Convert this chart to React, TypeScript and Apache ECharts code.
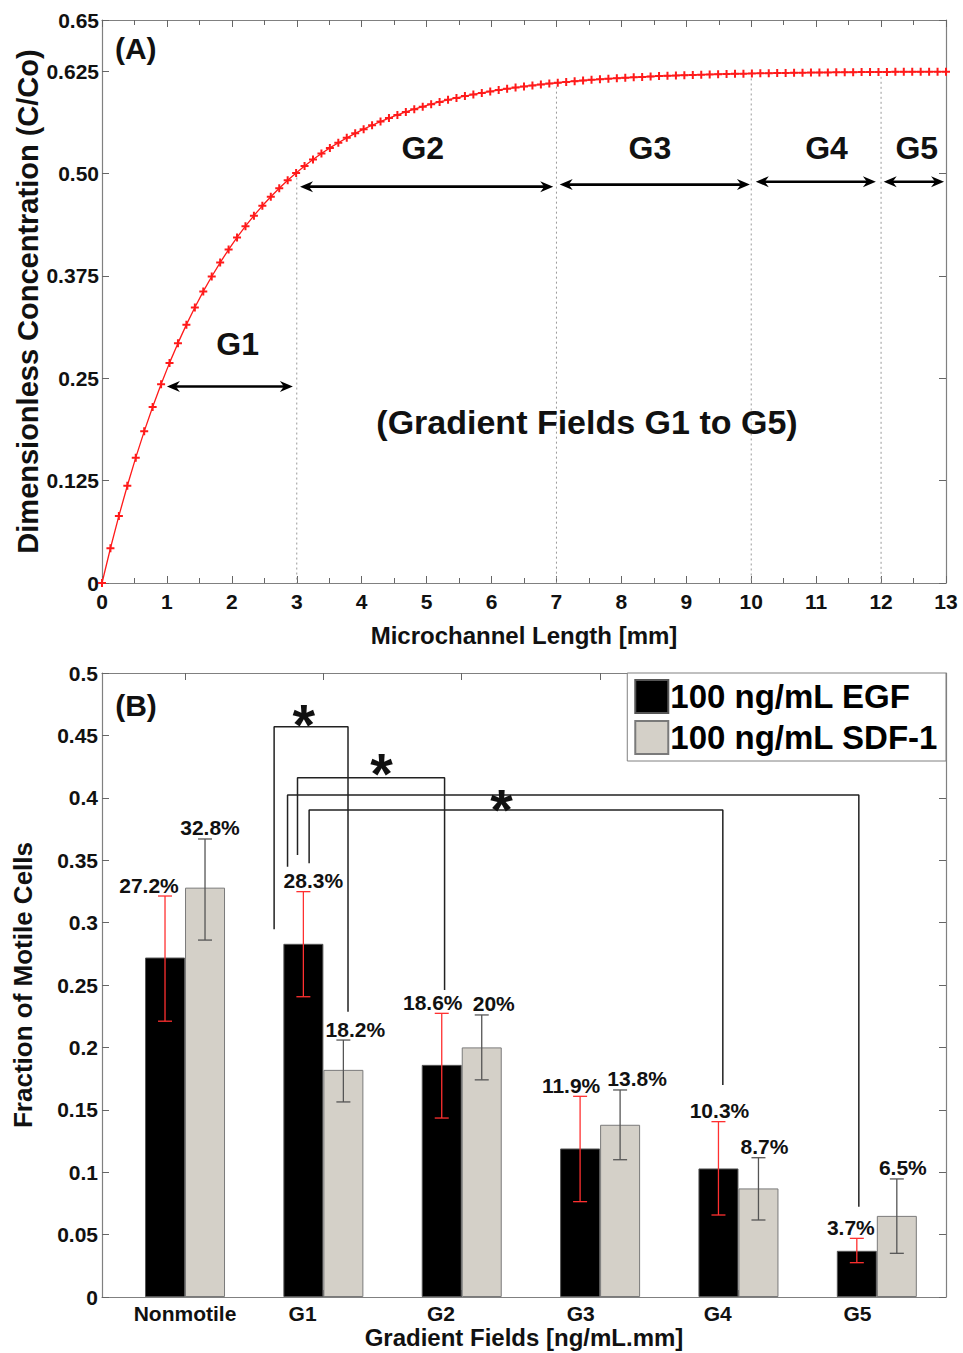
import React, { useEffect, useRef } from 'react';
import * as echarts from 'echarts';

const FONT = '"Liberation Sans", Arial, Helvetica, sans-serif';

// ---------- Panel A data ----------
const lengthMm = [
  0, 0.13, 0.26, 0.39, 0.52, 0.65, 0.78, 0.91, 1.04, 1.17,
  1.3, 1.43, 1.56, 1.69, 1.82, 1.95, 2.08, 2.21, 2.34, 2.47,
  2.6, 2.73, 2.86, 2.99, 3.12, 3.25, 3.38, 3.51, 3.64, 3.77,
  3.9, 4.03, 4.16, 4.29, 4.42, 4.55, 4.68, 4.81, 4.94, 5.07,
  5.2, 5.33, 5.46, 5.59, 5.72, 5.85, 5.98, 6.11, 6.24, 6.37,
  6.5, 6.63, 6.76, 6.89, 7.02, 7.15, 7.28, 7.41, 7.54, 7.67,
  7.8, 7.93, 8.06, 8.19, 8.32, 8.45, 8.58, 8.71, 8.84, 8.97,
  9.1, 9.23, 9.36, 9.49, 9.62, 9.75, 9.88, 10.01, 10.14, 10.27,
  10.4, 10.53, 10.66, 10.79, 10.92, 11.05, 11.18, 11.31, 11.44, 11.57,
  11.7, 11.83, 11.96, 12.09, 12.22, 12.35, 12.48, 12.61, 12.74, 12.87,
  13,
];
const concentration = [
  0, 0.0424, 0.0819, 0.1188, 0.1531, 0.1852, 0.2150, 0.2428, 0.2688, 0.2929,
  0.3155, 0.3365, 0.3561, 0.3743, 0.3913, 0.4072, 0.4220, 0.4357, 0.4486, 0.4606,
  0.4717, 0.4821, 0.4918, 0.5008, 0.5093, 0.5171, 0.5244, 0.5313, 0.5376, 0.5436,
  0.5491, 0.5542, 0.5590, 0.5635, 0.5677, 0.5716, 0.5752, 0.5786, 0.5817, 0.5847,
  0.5874, 0.5900, 0.5923, 0.5946, 0.5966, 0.5985, 0.6003, 0.6020, 0.6036, 0.6050,
  0.6064, 0.6076, 0.6088, 0.6099, 0.6109, 0.6119, 0.6128, 0.6136, 0.6144, 0.6151,
  0.6158, 0.6164, 0.6170, 0.6175, 0.6180, 0.6185, 0.6190, 0.6194, 0.6197, 0.6201,
  0.6204, 0.6207, 0.6210, 0.6213, 0.6216, 0.6218, 0.6220, 0.6222, 0.6224, 0.6226,
  0.6227, 0.6229, 0.6230, 0.6232, 0.6233, 0.6234, 0.6235, 0.6236, 0.6237, 0.6238,
  0.6239, 0.6240, 0.6240, 0.6241, 0.6242, 0.6242, 0.6243, 0.6243, 0.6244, 0.6244,
  0.6244,
];
const yTickLabelsA = ['0', '0.125', '0.25', '0.375', '0.50', '0.625', '0.65'];
const boundaryX = [3, 7, 10, 12];
const boundaryTop = [0.5, 0.611, 0.621, 0.623];
const fieldStart = [1.0, 3.05, 7.05, 10.07, 12.04];
const fieldEnd = [2.94, 6.95, 9.98, 11.92, 12.97];
const arrowLevel = [0.24, 0.484, 0.4865, 0.49, 0.49];
const annotationTextA = ['(A)', 'G1', 'G2', 'G3', 'G4', 'G5', '(Gradient Fields G1 to G5)'];
const annotationPosA = [[0.52, 0.653], [2.09, 0.292], [4.94, 0.531], [8.44, 0.531], [11.16, 0.531], [12.55, 0.531], [7.47, 0.197]];
const annotationSizeA = [30, 32, 32, 32, 32, 32, 34];

// ---------- Panel B data ----------
const categories = ['Nonmotile', 'G1', 'G2', 'G3', 'G4', 'G5'];
const categoryX = [1, 2, 3, 4, 5, 6];
const categoryLabelX = [1, 1.85, 2.85, 3.86, 4.85, 5.86];
const seriesNames = ['100 ng/mL EGF', '100 ng/mL SDF-1'];
const egfPct = [27.2, 28.3, 18.6, 11.9, 10.3, 3.7];
const sdfPct = [32.8, 18.2, 20, 13.8, 8.7, 6.5];
const egfLow = [0.221, 0.2406, 0.1434, 0.0764, 0.0657, 0.0275];
const egfHigh = [0.3213, 0.3248, 0.2273, 0.1608, 0.1405, 0.047];
const sdfLow = [0.286, 0.1563, 0.174, 0.11, 0.0617, 0.035];
const sdfHigh = [0.367, 0.2059, 0.226, 0.1659, 0.1116, 0.0946];
const egfLabelDx = [-16, 10, -9, -9, 1, -6];
const sdfLabelDx = [5, 12, 12, 17, 6, 6];
// significance brackets: [xLeft, yLeftBottom, xRight, yRightBottom, yTop]
const brackets = [
  [1.644, 0.2946, 2.178, 0.2286, 0.457],
  [1.813, 0.3542, 2.876, 0.246, 0.4161],
  [1.741, 0.3448, 5.87, 0.0724, 0.4022],
  [1.897, 0.3475, 4.887, 0.1699, 0.3902],
];
const starPos = [[1.859, 0.469], [2.421, 0.43], [3.287, 0.4006]];
const panelBLabelPos = [0.646, 0.4736];

const AXIS_COLOR = '#808080';
const TICK_COLOR = '#666';
const TEXT_COLOR = '#111';

const tickLabel = (size: number, margin: number) => ({
  color: TEXT_COLOR,
  fontWeight: 'bold' as const,
  fontSize: size,
  fontFamily: FONT,
  margin,
});
const nameStyle = (size: number) => ({
  color: TEXT_COLOR,
  fontWeight: 'bold' as const,
  fontSize: size,
  fontFamily: FONT,
});
const axisLine = { show: true, onZero: false, lineStyle: { color: AXIS_COLOR, width: 1.2 } };

function textEl(x: number, y: number, text: string, size: number) {
  return {
    type: 'text',
    x,
    y,
    style: {
      text,
      fontSize: size,
      fontWeight: 'bold',
      fontFamily: FONT,
      fill: TEXT_COLOR,
      align: 'center',
      verticalAlign: 'middle',
    },
  };
}

function errorSeries(low: number[], high: number[], pct: number[], labelDx: number[], offset: number, color: string) {
  return {
    type: 'custom',
    xAxisIndex: 2,
    yAxisIndex: 2,
    z: 6,
    silent: true,
    encode: { x: 0, y: [1, 2] },
    data: categoryX.map((x, i) => [x, low[i], high[i]]),
    renderItem: (params: any, api: any) => {
      const i = params.dataIndex;
      const pLow = api.coord([categoryX[i], low[i]]);
      const pHigh = api.coord([categoryX[i], high[i]]);
      const cx = pLow[0] + offset;
      const cap = 7;
      const ls = { stroke: color, lineWidth: 1.3 };
      return {
        type: 'group',
        children: [
          { type: 'line', shape: { x1: cx, y1: pLow[1], x2: cx, y2: pHigh[1] }, style: ls },
          { type: 'line', shape: { x1: cx - cap, y1: pLow[1], x2: cx + cap, y2: pLow[1] }, style: ls },
          { type: 'line', shape: { x1: cx - cap, y1: pHigh[1], x2: cx + cap, y2: pHigh[1] }, style: ls },
          textEl(cx + labelDx[i], pHigh[1] - 11, pct[i] + '%', 21),
        ],
      };
    },
  };
}

const option: any = {
  animation: false,
  backgroundColor: '#fff',
  textStyle: { fontFamily: FONT },
  grid: [
    { left: 102, top: 20, width: 844, height: 563, containLabel: false, outerBoundsMode: 'none' },
    { left: 102, top: 673, width: 844, height: 624, containLabel: false, outerBoundsMode: 'none' },
  ],
  legend: {
    show: true,
    data: seriesNames,
    orient: 'vertical',
    right: 17,
    top: 673,
    icon: 'rect',
    itemWidth: 33,
    itemHeight: 33,
    itemGap: 6,
    padding: [6, 8, 6, 7],
    borderColor: AXIS_COLOR,
    borderWidth: 1,
    backgroundColor: '#fff',
    selectedMode: false,
    textStyle: { fontSize: 33, fontWeight: 'bold', color: '#000', fontFamily: FONT, padding: [0, 0, 0, -3] },
  },
  xAxis: [
    {
      gridIndex: 0, type: 'value', min: 0, max: 13, interval: 1, position: 'bottom',
      axisLine, splitLine: { show: false },
      axisTick: { show: true, inside: true, length: 7, lineStyle: { color: TICK_COLOR } },
      minorTick: { show: true, splitNumber: 2, length: 5, lineStyle: { color: TICK_COLOR } },
      axisLabel: tickLabel(21, 8),
      name: 'Microchannel Length [mm]', nameLocation: 'middle', nameGap: 40, nameTextStyle: nameStyle(24),
      nameMoveOverlap: false,
    },
    {
      gridIndex: 0, type: 'value', min: 0, max: 13, interval: 1, position: 'top',
      axisLine, splitLine: { show: false },
      axisTick: { show: true, inside: true, length: 7, lineStyle: { color: TICK_COLOR } },
      minorTick: { show: true, splitNumber: 2, length: 5, lineStyle: { color: TICK_COLOR } },
      axisLabel: { show: false },
    },
    {
      gridIndex: 1, type: 'value', min: 0.4, max: 6.5, position: 'bottom',
      axisLine, splitLine: { show: false },
      axisTick: { show: true, inside: true, length: 7, customValues: categoryX, lineStyle: { color: TICK_COLOR } },
      axisLabel: {
        ...tickLabel(21, 6),
        customValues: categoryLabelX,
        formatter: (v: number) => {
          let best = 0;
          categoryLabelX.forEach((c, i) => { if (Math.abs(c - v) < Math.abs(categoryLabelX[best] - v)) best = i; });
          return categories[best];
        },
      },
      name: 'Gradient Fields [ng/mL.mm]', nameLocation: 'middle', nameGap: 28, nameTextStyle: nameStyle(24),
      nameMoveOverlap: false,
    },
    {
      gridIndex: 1, type: 'value', min: 0.4, max: 6.5, position: 'top',
      axisLine, splitLine: { show: false },
      axisTick: { show: true, inside: true, length: 7, customValues: categoryX, lineStyle: { color: TICK_COLOR } },
      axisLabel: { show: false },
    },
  ],
  yAxis: [
    {
      gridIndex: 0, type: 'value', min: 0, max: 0.6875, interval: 0.125, position: 'left',
      axisLine, splitLine: { show: false },
      axisTick: { show: true, inside: true, length: 7, lineStyle: { color: TICK_COLOR } },
      axisLabel: {
        ...tickLabel(21, 3),
        showMaxLabel: true,
        formatter: (v: number) => yTickLabelsA[Math.round(v / 0.125)] ?? '',
      },
      name: 'Dimensionless Concentration (C/Co)', nameLocation: 'middle', nameGap: 60, nameTextStyle: nameStyle(29),
      nameMoveOverlap: false,
    },
    {
      gridIndex: 0, type: 'value', min: 0, max: 0.6875, interval: 0.125, position: 'right',
      axisLine, splitLine: { show: false },
      axisTick: { show: true, inside: true, length: 7, lineStyle: { color: TICK_COLOR } },
      axisLabel: { show: false },
    },
    {
      gridIndex: 1, type: 'value', min: 0, max: 0.5, interval: 0.05, position: 'left',
      axisLine, splitLine: { show: false },
      axisTick: { show: true, inside: true, length: 7, lineStyle: { color: TICK_COLOR } },
      axisLabel: tickLabel(21, 4),
      name: 'Fraction of Motile Cells', nameLocation: 'middle', nameGap: 66, nameTextStyle: nameStyle(26),
      nameMoveOverlap: false,
    },
    {
      gridIndex: 1, type: 'value', min: 0, max: 0.5, interval: 0.05, position: 'right',
      axisLine, splitLine: { show: false },
      axisTick: { show: true, inside: true, length: 7, lineStyle: { color: TICK_COLOR } },
      axisLabel: { show: false },
    },
  ],
  series: [
    // dotted gradient-field boundaries
    {
      type: 'custom', xAxisIndex: 0, yAxisIndex: 0, silent: true, z: 1,
      encode: { x: 0, y: 1 },
      data: boundaryX.map((x, i) => [x, boundaryTop[i]]),
      renderItem: (params: any, api: any) => {
        const i = params.dataIndex;
        const top = api.coord([boundaryX[i], boundaryTop[i]]);
        const bot = api.coord([boundaryX[i], 0]);
        return {
          type: 'line',
          shape: { x1: top[0], y1: top[1] + 4, x2: bot[0], y2: bot[1] },
          style: { stroke: '#999', lineWidth: 1, lineDash: [2, 3] },
        };
      },
    },
    // concentration curve
    {
      type: 'line', xAxisIndex: 0, yAxisIndex: 0, z: 3,
      data: lengthMm.map((x, i) => [x, concentration[i]]),
      symbol: 'path://M3,0H5V3H8V5H5V8H3V5H0V3H3Z',
      symbolSize: 8,
      showSymbol: true,
      showAllSymbol: true,
      itemStyle: { color: '#ff1a1a' },
      lineStyle: { color: '#ff1a1a', width: 1.3 },
    },
    // double-headed arrows
    {
      type: 'custom', xAxisIndex: 0, yAxisIndex: 0, silent: true, z: 4,
      encode: { x: [0, 1], y: 2 },
      data: fieldStart.map((s, i) => [s, fieldEnd[i], arrowLevel[i]]),
      renderItem: (params: any, api: any) => {
        const i = params.dataIndex;
        const a = api.coord([fieldStart[i], arrowLevel[i]]);
        const b = api.coord([fieldEnd[i], arrowLevel[i]]);
        const L = 13, H = 5.5, N = 9;
        return {
          type: 'group',
          children: [
            { type: 'line', shape: { x1: a[0] + 4, y1: a[1], x2: b[0] - 4, y2: b[1] }, style: { stroke: '#000', lineWidth: 2.6 } },
            { type: 'polygon', shape: { points: [[a[0], a[1]], [a[0] + L, a[1] - H], [a[0] + N, a[1]], [a[0] + L, a[1] + H]] }, style: { fill: '#000' } },
            { type: 'polygon', shape: { points: [[b[0], b[1]], [b[0] - L, b[1] - H], [b[0] - N, b[1]], [b[0] - L, b[1] + H]] }, style: { fill: '#000' } },
          ],
        };
      },
    },
    // panel A annotations
    {
      type: 'custom', xAxisIndex: 0, yAxisIndex: 0, silent: true, z: 5,
      encode: { x: 0, y: 1 },
      data: annotationPosA,
      renderItem: (params: any, api: any) => {
        const i = params.dataIndex;
        const p = api.coord(annotationPosA[i]);
        return textEl(p[0], p[1], annotationTextA[i], annotationSizeA[i]);
      },
    },
    // panel B bars
    {
      type: 'bar', name: seriesNames[0], xAxisIndex: 2, yAxisIndex: 2, z: 2,
      data: categoryX.map((x, i) => [x, egfPct[i] / 100]),
      barWidth: 40, barGap: '0%',
      itemStyle: { color: '#000', borderColor: '#555', borderWidth: 1 },
    },
    {
      type: 'bar', name: seriesNames[1], xAxisIndex: 2, yAxisIndex: 2, z: 2,
      data: categoryX.map((x, i) => [x, sdfPct[i] / 100]),
      barWidth: 40, barGap: '0%',
      itemStyle: { color: '#d4d0c8', borderColor: '#7a7a7a', borderWidth: 1 },
    },
    errorSeries(egfLow, egfHigh, egfPct, egfLabelDx, -20, '#ff3030'),
    errorSeries(sdfLow, sdfHigh, sdfPct, sdfLabelDx, 20, '#555'),
    // significance brackets
    ...brackets.map((b) => ({
      type: 'line', xAxisIndex: 2, yAxisIndex: 2, z: 5, silent: true,
      symbol: 'none',
      data: [[b[0], b[1]], [b[0], b[4]], [b[2], b[4]], [b[2], b[3]]],
      lineStyle: { color: '#222', width: 1.5 },
      itemStyle: { color: '#222' },
    })),
    // stars and (B)
    {
      type: 'custom', xAxisIndex: 2, yAxisIndex: 2, silent: true, z: 7,
      encode: { x: 0, y: 1 },
      data: [...starPos, panelBLabelPos],
      renderItem: (params: any, api: any) => {
        const i = params.dataIndex;
        if (i < starPos.length) {
          const p = api.coord(starPos[i]);
          const size = 58;
          return textEl(p[0], p[1] + 0.22 * size, '*', size);
        }
        const p = api.coord(panelBLabelPos);
        return textEl(p[0], p[1], '(B)', 30);
      },
    },
  ],
};

export default function App() {
  const ref = useRef<HTMLDivElement>(null);
  useEffect(() => {
    if (!ref.current) return;
    const chart = echarts.init(ref.current, null, { renderer: 'svg' });
    chart.setOption(option);
    return () => chart.dispose();
  }, []);
  return (
    <div
      ref={ref}
      style={{ position: 'absolute', left: 0, top: 0, width: 963, height: 1353, background: '#fff' }}
    />
  );
}
